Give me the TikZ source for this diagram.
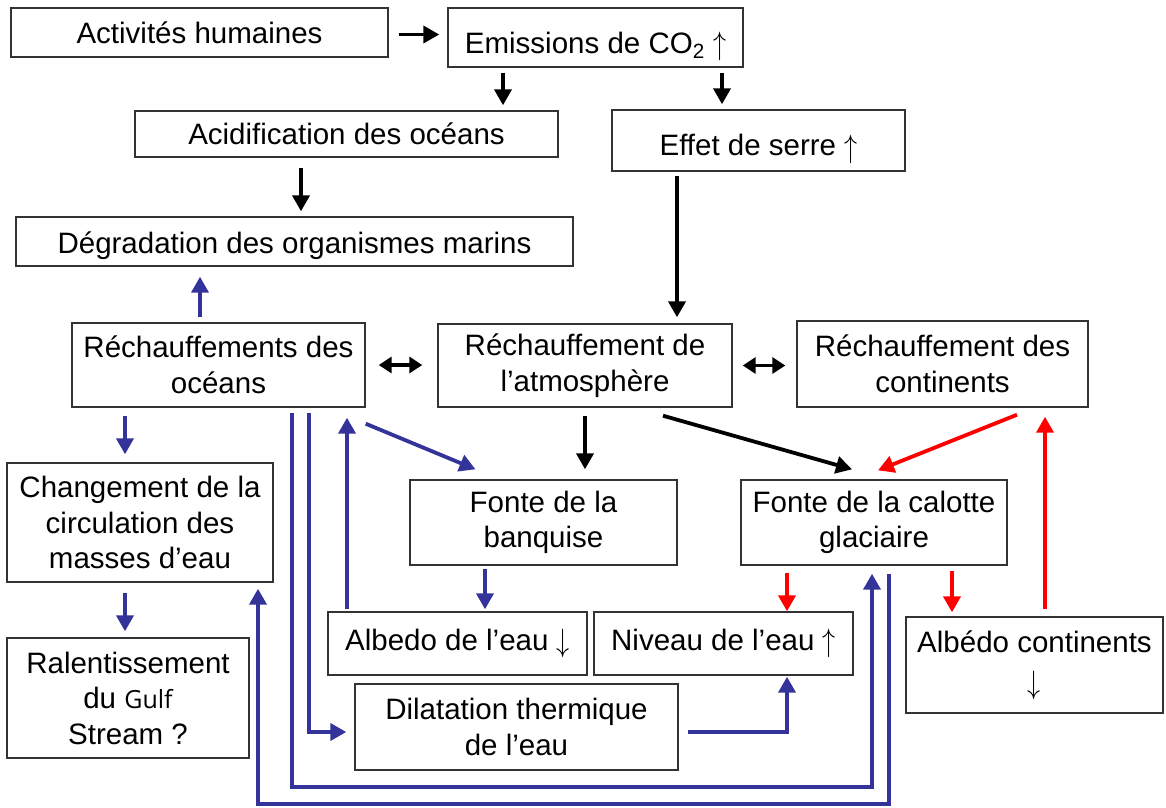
\documentclass[tikz,border=0pt]{standalone}
\usepackage{graphicx}
\usepackage{fontspec}
\setmainfont{Liberation Sans}
\newfontfamily\gulffont{Open Sans}
\usetikzlibrary{arrows.meta}
\definecolor{dblue}{RGB}{51,51,153}
\newcommand{\uparr}{\raisebox{-1.5pt}{\scalebox{1.05}[1.3]{$\uparrow$}}}
\newcommand{\downarr}{\raisebox{-1.5pt}{\scalebox{1.05}[1.3]{$\downarrow$}}}
\begin{document}
\begin{tikzpicture}[x=1pt,y=-1pt,
  box/.style={draw=black!80, line width=1.4pt, align=center, inner sep=0pt,
    font=\fontsize{29.5}{35.5}\selectfont},
  conn/.style={line width=3.8pt, -{Triangle[length=16pt,width=17pt]}},
  blk/.style={conn, draw=black},
  blu/.style={conn, draw=dblue},
  rd/.style={conn, draw=red},
  dbl/.style={line width=3.8pt, draw=black,
    {Triangle[length=13pt,width=16pt]}-{Triangle[length=13pt,width=16pt]}},
]
\useasboundingbox[fill=white] (0,0) rectangle (1166,807);

% boxes
\node[box, minimum width=377pt, minimum height=49pt] (act) at (199.5,32.5) {Activités humaines};
\node[box, minimum width=295pt, minimum height=59pt, text height=31pt, text depth=0pt] (emis) at (595.5,37.5) {Emissions de CO\textsubscript{2} \uparr};
\node[box, minimum width=423pt, minimum height=46pt] (acid) at (346.5,134) {Acidification des océans};
\node[box, minimum width=293pt, minimum height=61pt, text height=30pt, text depth=0pt] (effet) at (758.5,140.5) {Effet de serre \uparr};
\node[box, minimum width=557pt, minimum height=49pt, text height=24pt, text depth=0pt] (deg) at (294.5,241.5) {Dégradation des organismes marins};
\node[box, minimum width=293pt, minimum height=84pt] (oce) at (218.5,365) {Réchauffements des\\océans};
\node[box, minimum width=294pt, minimum height=83pt] (atm) at (585,365.5) {Réchauffement de\\l’atmosphère};
\node[box, minimum width=291pt, minimum height=86pt] (cont) at (942.5,364) {Réchauffement des\\continents};
\node[box, minimum width=266pt, minimum height=119pt] (chg) at (140,522.5) {Changement de la\\circulation des\\masses d’eau};
\node[box, minimum width=242pt, minimum height=120pt] (ral) at (128,698) {Ralentissement\\du {\gulffont\fontsize{25}{35.5}\selectfont Gulf}\\Stream ?};
\node[box, minimum width=267pt, minimum height=85pt] (banq) at (543.5,522.5) {Fonte de la\\banquise};
\node[box, minimum width=266pt, minimum height=85pt] (cal) at (874,522.5) {Fonte de la calotte\\glaciaire};
\node[box, minimum width=259pt, minimum height=63pt] (albe) at (457.5,643.5) {Albedo de l’eau \downarr};
\node[box, minimum width=259pt, minimum height=63pt] (niv) at (723.5,643.5) {Niveau de l’eau \uparr};
\node[box, minimum width=323pt, minimum height=86pt] (dil) at (516.5,727) {Dilatation thermique\\de l’eau};
\node[box, minimum width=257pt, minimum height=96pt] (albc) at (1034.5,665) {Albédo continents\\[4pt]\downarr};

\coordinate (lowA) at (0,787);
\coordinate (lowB) at (0,804);

% black connectors
\draw[blk, shorten <=10pt, shorten >=8pt] ([yshift=-2pt]act.east) -- ([yshift=-2pt]act.east -| emis.west);
\draw[blk, shorten <=5pt, shorten >=5pt] (503,0 |- emis.south) -- (503,0 |- acid.north);
\draw[blk, shorten <=5pt, shorten >=5pt] (722,0 |- emis.south) -- (722,0 |- effet.north);
\draw[blk, shorten <=10pt, shorten >=5pt] (301,0 |- acid.south) -- (301,0 |- deg.north);
\draw[blk, shorten <=4pt, shorten >=6pt] (677,0 |- effet.south) -- (677,0 |- atm.north);
\draw[dbl, shorten <=13pt, shorten >=15pt] (oce.east) -- (oce.east -| atm.west);
\draw[dbl, shorten <=10pt, shorten >=11pt] (atm.east) -- (atm.east -| cont.west);
\draw[blk, shorten <=8pt, shorten >=10pt] (585,0 |- atm.south) -- (585,0 |- banq.north);
\draw[blk] ([xshift=78pt,yshift=-8pt]atm.south) -- ([xshift=-22pt,yshift=10pt]cal.north);

% blue connectors
\draw[blu, shorten <=5pt, shorten >=10pt] (200,0 |- oce.north) -- (200,0 |- deg.south);
\draw[blu, shorten <=8pt, shorten >=8pt] (125,0 |- oce.south) -- (125,0 |- chg.north);
\draw[blu, shorten <=10pt, shorten >=6pt] (125,0 |- chg.south) -- (125,0 |- ral.north);
\draw[blu] ([yshift=-16pt]oce.south east) -- ([xshift=-68pt,yshift=10pt]banq.north);
\draw[blu, shorten <=3pt, shorten >=2pt] (485,0 |- banq.south) -- (485,0 |- albe.north);
\draw[blu, shorten <=2pt, shorten >=10pt] (347,0 |- albe.north) -- (347,0 |- oce.south);
\draw[blu, shorten <=5pt, shorten >=8pt] (309,0 |- oce.south) |- ([yshift=-5pt]dil.west);
\draw[blu, shorten <=5pt, shorten >=8pt] (292,0 |- oce.south) -- (292,0 |- lowA) -| (872,0 |- cal.south);
\draw[blu, shorten <=8pt, shorten >=6pt] (889,0 |- cal.south) -- (889,0 |- lowB) -| (258,0 |- chg.south);
\draw[blu, shorten <=9pt, shorten >=1pt] ([yshift=-5pt]dil.east) -| (787,0 |- niv.south);

% red connectors
\draw[rd] ([xshift=74.5pt,yshift=-7pt]cont.south) -- ([xshift=4pt,yshift=9pt]cal.north);
\draw[rd, shorten <=7pt, shorten >=0pt] (787,0 |- cal.south) -- (787,0 |- niv.north);
\draw[rd, shorten <=5pt, shorten >=4pt] (952,0 |- cal.south) -- (952,0 |- albc.north);
\draw[rd, shorten <=7pt, shorten >=9pt] (1045,0 |- albc.north) -- (1045,0 |- cont.south);
\end{tikzpicture}
\end{document}
